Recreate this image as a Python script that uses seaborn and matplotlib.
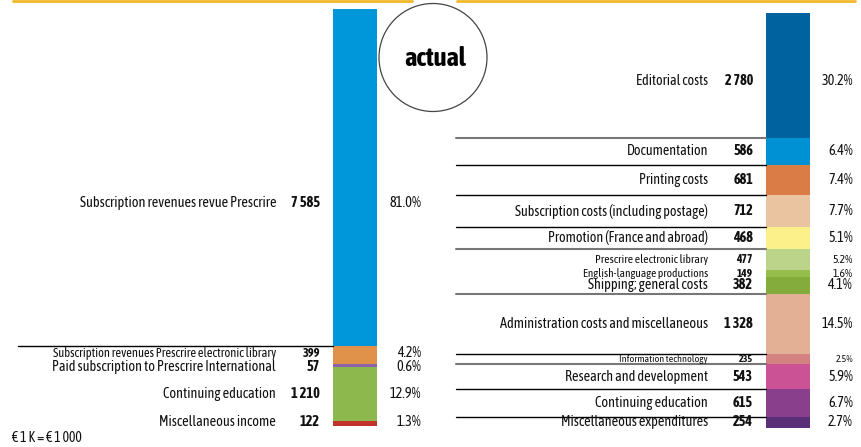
import matplotlib
matplotlib.use("Agg")
import matplotlib.pyplot as plt
import matplotlib.transforms as mtransforms
from matplotlib.patches import Circle
from matplotlib.lines import Line2D
import seaborn as sns

# revenues (left bar), in thousands of euros
rev_labels = [
    "Subscription revenues revue Prescrire",
    "Subscription revenues Prescrire electronic library",
    "Paid subscription to Prescrire International",
    "Continuing education",
    "Miscellaneous income",
]
rev_values = [7585, 399, 57, 1210, 122]
rev_pct = ["81.0%", "4.2%", "0.6%", "12.9%", "1.3%"]
rev_colors = ["#0096da", "#e0924a", "#8a63a8", "#8cb84e", "#c0322b"]

# expenditures (right bar)
exp_labels = [
    "Editorial costs",
    "Documentation",
    "Printing costs",
    "Subscription costs (including postage)",
    "Promotion (France and abroad)",
    "Prescrire electronic library",
    "English-language productions",
    "Shipping; general costs",
    "Administration costs and miscellaneous",
    "Information technology",
    "Research and development",
    "Continuing education",
    "Miscellaneous expenditures",
]
exp_values = [2780, 586, 681, 712, 468, 477, 149, 382, 1328, 235, 543, 615, 254]
exp_pct = ["30.2%", "6.4%", "7.4%", "7.7%", "5.1%", "5.2%", "1.6%", "4.1%",
           "14.5%", "2.5%", "5.9%", "6.7%", "2.7%"]
exp_colors = ["#00629e", "#0090d4", "#d97c45", "#eac4a0", "#fcf08a", "#bcd38a",
              "#95be4c", "#84ac3c", "#e3b096", "#d48181", "#cc5296", "#8a3f8c",
              "#5b2e78"]

sns.set_theme(style="white")
# condensed face if available, otherwise a plain sans
plt.rcParams["font.family"] = ["Asap Condensed", "Liberation Sans", "DejaVu Sans"]

W, H = 861, 447
fig = plt.figure(figsize=(W / 100, H / 100), dpi=100)


def fmt(v):
    return f"{v:,}".replace(",", " ")


def draw_bar(x0, x1, top_px, bottom_px, labels, values, pct, colors,
             sizes, pct_sizes, nudges, lab_x, val_x, pct_x, seps, line_x0):
    ax = fig.add_axes([x0 / W, 0, (x1 - x0) / W, 1])
    total = sum(values)
    scale = (bottom_px - top_px) / total  # pixels per K
    bottom = 0
    mids = []
    for v, c in zip(values, colors):
        sns.barplot(x=["x"], y=[v], bottom=bottom, color=c, width=1,
                    errorbar=None, linewidth=0, saturation=1, ax=ax)
        mids.append(bottom + v / 2)
        bottom += v
    ax.set_xlim(-0.5, 0.5)
    ax.set_ylim((H - top_px) / scale, -top_px / scale)
    ax.axis("off")

    trans = mtransforms.blended_transform_factory(fig.transFigure, ax.transData)
    for lab, v, p, m, fs, pfs, nd in zip(labels, values, pct, mids, sizes, pct_sizes, nudges):
        y = m + nd / scale
        ax.text(lab_x / W, y, lab, transform=trans, ha="right", va="center",
                fontsize=fs, color="#111111", clip_on=False)
        ax.text(val_x / W, y, fmt(v), transform=trans, ha="right", va="center",
                fontsize=fs, fontweight="bold", color="#111111", clip_on=False)
        ax.text(pct_x / W, y, p, transform=trans, ha="right", va="center",
                fontsize=pfs, color="#111111", clip_on=False)

    cum = [sum(values[:i + 1]) for i in range(len(values))]
    for idx, col, lw in seps:
        ax.add_line(Line2D([line_x0 / W, x0 / W], [cum[idx], cum[idx]],
                           transform=trans, color=col, lw=lw, clip_on=False))
    return ax


draw_bar(333, 377, 9, 426, rev_labels, rev_values, rev_pct, rev_colors,
         sizes=[10.4, 9, 10.3, 10.3, 10.3],
         pct_sizes=[10.4, 10, 10.3, 10.3, 10.3],
         nudges=[25, -2, 1.5, 0, -1],
         lab_x=276, val_x=320, pct_x=421,
         seps=[(0, "black", 1.0)], line_x0=18)

exp_sizes = [10.2, 10.2, 10.2, 10.2, 10.2, 8.4, 8.2, 10.3, 10.3, 7.2, 10.3, 10.3, 10.3]
draw_bar(766, 810, 13, 428, exp_labels, exp_values, exp_pct, exp_colors,
         sizes=exp_sizes, pct_sizes=exp_sizes,
         nudges=[5, 0, 0, 0, 0, 0, 0, 0, 0, 0, 0, 0, 0],
         lab_x=708, val_x=753, pct_x=853,
         seps=[(0, "#777777", 1.5), (1, "black", 1.0), (2, "black", 1.0),
               (3, "black", 1.0), (4, "#777777", 1.5), (7, "#777777", 1.5),
               (8, "black", 1.0), (9, "#777777", 1.5), (10, "black", 1.0),
               (11, "black", 1.0)],
         line_x0=456)

# top rules
for a, b in [(13, 412), (457, 855)]:
    fig.add_artist(Line2D([a / W, b / W], [1 - 0.8 / H] * 2, color="#f0b82a", lw=2))

# "actual" badge
fig.add_artist(Circle((4.33, (H - 57.5) / 100), 0.54, transform=fig.dpi_scale_trans,
                      facecolor="white", edgecolor="#444444", lw=0.9))
fig.text(435 / W, 1 - 58 / H, "actual", ha="center", va="center",
         fontsize=19, fontweight="bold", color="black")

fig.text(12 / W, 1 - 438 / H, "€ 1 K = € 1 000", ha="left", va="center",
         fontsize=10, color="#111111")

fig.savefig("out.png", dpi=100)
